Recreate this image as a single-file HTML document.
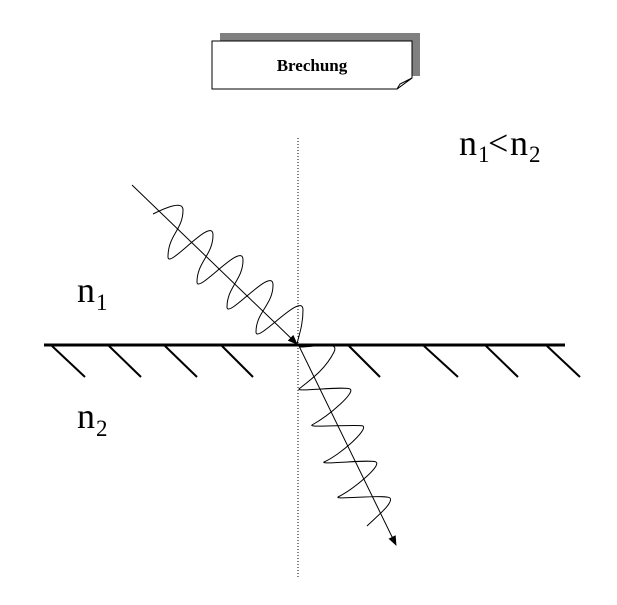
<!DOCTYPE html>
<html><head><meta charset="utf-8"><style>
html,body{margin:0;padding:0;background:#fff}
svg{display:block}
text{font-family:"Liberation Serif",serif;fill:#000}
</style></head><body>
<svg width="617" height="605" viewBox="0 0 617 605" xmlns="http://www.w3.org/2000/svg">
<defs>
<marker id="ah" markerWidth="10" markerHeight="10" refX="9" refY="5" orient="auto" markerUnits="userSpaceOnUse">
<path d="M0,1 L10,5 L0,9 Z" fill="#000"/>
</marker>
</defs>
<rect x="220" y="33" width="200" height="43" fill="#808080"/>
<path d="M212,41 H412 V78 L397,89 H212 Z" fill="#fff" stroke="#000" stroke-width="1"/>
<path d="M412,78 L397,89 L400,84 Z" fill="#fff" stroke="#000" stroke-width="1"/>
<text x="312" y="71" font-size="17" font-weight="bold" text-anchor="middle">Brechung</text>

<line x1="298" y1="138" x2="298" y2="578" stroke="#000" stroke-width="1" stroke-dasharray="1,2"/>

<line x1="44" y1="345" x2="565" y2="345" stroke="#000" stroke-width="3"/>
<g stroke="#000" stroke-width="2">
<line x1="52" y1="346" x2="85" y2="377"/>
<line x1="109" y1="346" x2="141" y2="377"/>
<line x1="165" y1="346" x2="197" y2="377"/>
<line x1="222" y1="346" x2="253" y2="377"/>
<line x1="349" y1="346" x2="380" y2="377"/>
<line x1="424" y1="346" x2="458" y2="377"/>
<line x1="486" y1="346" x2="518" y2="377"/>
<line x1="547" y1="346" x2="580" y2="377"/>
</g>

<line x1="132" y1="185" x2="297" y2="344" stroke="#000" stroke-width="1" marker-end="url(#ah)"/>
<path fill="none" stroke="#000" stroke-width="1" d="M153,214 C165,208 183,200 183,210 C183,230 168,235 168,257 C168,270 213,215 213,235 C213,255 197,262 197,282 C197,295 243,240 243,260 C243,280 227,287 227,307 C227,320 273,265 273,285 C273,305 256,312 256,332 C256,345 303,290 303,310 C303,325 299,335 297,344"/>

<line x1="299" y1="346" x2="396" y2="545" stroke="#000" stroke-width="1" marker-end="url(#ah)"/>
<path fill="none" stroke="#000" stroke-width="1" d="M300,347 C315,347 340,340 334,352 C325,370 310,380 299,389 C296,392 345,386 350,389 C356,392 330,415 312,425 C308,428 358,424 363,426 C368,430 340,455 324,462 C320,465 372,459 376,462 C382,466 352,490 338,497 C335,500 387,494 390,498 C394,503 375,518 367,526"/>

<text x="77" y="302" font-size="36">n</text><text x="96" y="310" font-size="23">1</text>
<text x="77" y="428" font-size="36">n</text><text x="96" y="436" font-size="23">2</text>
<text x="459" y="155" font-size="36">n</text><text x="478" y="162" font-size="23">1</text>
<text x="488" y="155" font-size="36">&lt;</text>
<text x="510" y="155" font-size="36">n</text><text x="529" y="162" font-size="23">2</text>
</svg>
</body></html>
